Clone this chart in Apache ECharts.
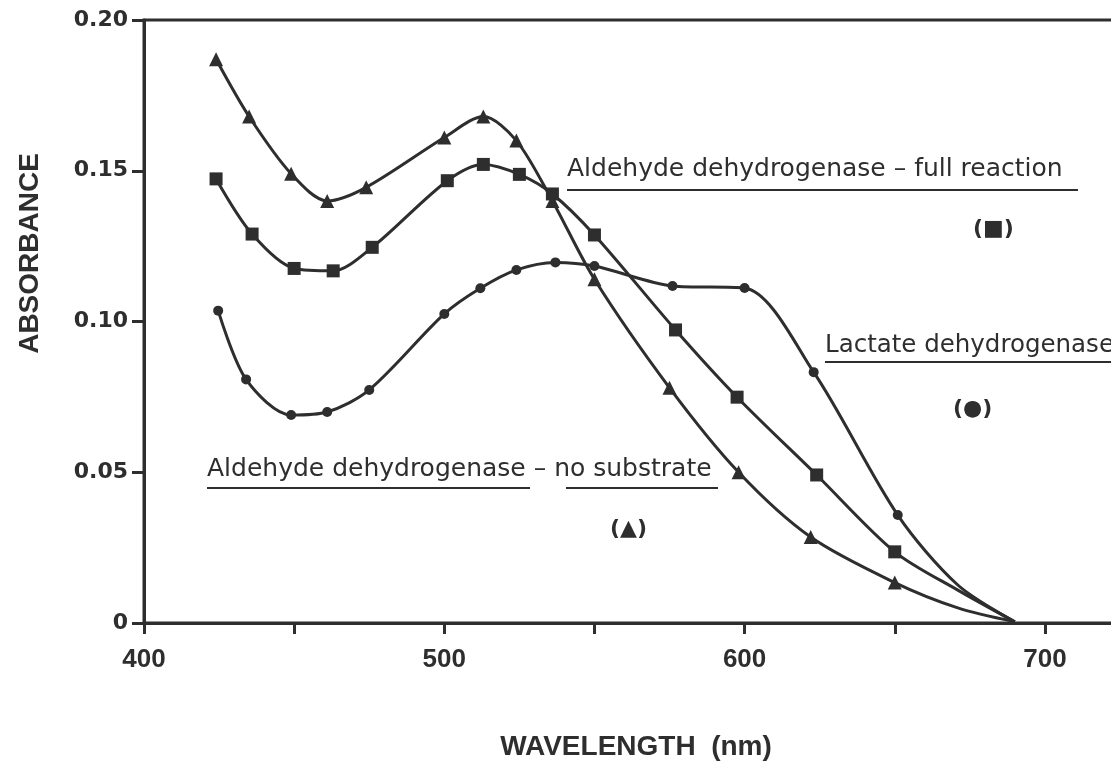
<!DOCTYPE html>
<html>
<head>
<meta charset="utf-8">
<script src="https://cdn.jsdelivr.net/npm/echarts@6/dist/echarts.min.js"></script>
<style>
  html, body { margin: 0; padding: 0; background: #fff; }
  #chart { width: 1111px; height: 770px; }
</style>
</head>
<body>
<div id="chart"></div>
<script>
// wavelength (nm) / absorbance
// the last two points of each curve are on the tail where no marker is drawn
var noSubX = [424, 435, 449, 461, 474, 500, 513, 524, 536, 550, 575, 598, 622, 650, 671, 690]
var noSubY = [0.187, 0.168, 0.149, 0.140, 0.1445, 0.161, 0.168, 0.160, 0.140, 0.114, 0.078, 0.050, 0.0285, 0.0134, 0.005, 0.0004]

var fullX = [424, 436, 450, 463, 476, 501, 513, 525, 536, 550, 577, 597.5, 624, 650, 671, 690]
var fullY = [0.1473, 0.129, 0.1176, 0.1168, 0.1246, 0.1467, 0.1521, 0.1488, 0.1423, 0.1287, 0.0972, 0.0749, 0.0491, 0.0236, 0.0109, 0.0004]

var lactX = [424.7, 434, 449, 461, 475, 500, 512, 524, 537, 550, 576, 600, 623, 651, 671, 690]
var lactY = [0.1036, 0.0808, 0.069, 0.070, 0.0773, 0.1025, 0.111, 0.1171, 0.1196, 0.1184, 0.1118, 0.1111, 0.0832, 0.0358, 0.0126, 0.0004]

var xLabels = [400, 500, 600, 700]
var yLabels = ["0", "0.05", "0.10", "0.15", "0.20"]

var ink = "#2e2e2e"

function pairs(xs, ys) {
    return xs.map(function (x, i) {
        var p = { value: [x, ys[i]] }
        if (i >= xs.length - 2) p.symbolSize = 0
        return p
    })
}

function curve(name, symbol, size, xs, ys) {
    return {
        name: name,
        type: "line",
        data: pairs(xs, ys),
        smooth: 0.3,
        symbol: symbol,
        symbolSize: size,
        showAllSymbol: true,
        lineStyle: { color: ink, width: 3 },
        itemStyle: { color: ink },
        emphasis: { disabled: true },
        z: 3
    }
}

var chart = echarts.init(document.getElementById("chart"))

var option = {
    backgroundColor: "#fff",
    animation: false,
    grid: {
        left: 144,
        top: 20,
        width: 1000,
        bottom: 147,
        outerBoundsMode: "none",
        containLabel: false,
        show: true,
        borderColor: ink,
        borderWidth: 3
    },
    xAxis: {
        type: "value",
        min: 400,
        max: 733,
        interval: 50,
        name: "WAVELENGTH  (nm)",
        nameLocation: "middle",
        nameGap: 110,
        nameTextStyle: {
            color: ink, fontFamily: "Liberation Sans", fontWeight: "bold", fontSize: 28,
            padding: [0, 16, 0, 0]
        },
        axisLine: { show: true, lineStyle: { color: ink, width: 3 } },
        axisTick: { show: true, inside: false, length: 11, lineStyle: { color: ink, width: 3 } },
        axisLabel: {
            color: ink, fontFamily: "Liberation Sans", fontWeight: "bold", fontSize: 26,
            margin: 24, showMaxLabel: false,
            formatter: function (v) { return xLabels.indexOf(v) >= 0 ? String(v) : "" }
        },
        splitLine: { show: false }
    },
    yAxis: {
        type: "value",
        min: 0,
        max: 0.2,
        interval: 0.05,
        name: "ABSORBANCE",
        nameLocation: "middle",
        nameGap: 100,
        nameRotate: 90,
        nameTextStyle: {
            color: ink, fontFamily: "Liberation Sans", fontWeight: "bold", fontSize: 28,
            padding: [0, 0, 0, 136]
        },
        axisLine: { show: true, lineStyle: { color: ink, width: 3 } },
        axisTick: { show: true, inside: false, length: 12, lineStyle: { color: ink, width: 3 } },
        axisLabel: {
            color: ink, fontFamily: "DejaVu Sans", fontWeight: "bold", fontSize: 22, margin: 16,
            formatter: function (v) { return yLabels[Math.round(v / 0.05)] }
        },
        splitLine: { show: false }
    },
    series: [
        curve("Aldehyde dehydrogenase - no substrate", "triangle", 14, noSubX, noSubY),
        curve("Aldehyde dehydrogenase - full reaction", "rect", 13, fullX, fullY),
        curve("Lactate dehydrogenase", "circle", 10, lactX, lactY)
    ],
    graphic: [
        { type: "text", left: 567, top: 157, style: { text: "Aldehyde dehydrogenase \u2013 full reaction", font: "25px 'DejaVu Sans'", fill: ink } },
        { type: "line", shape: { x1: 567, y1: 190, x2: 1078, y2: 190 }, style: { stroke: ink, lineWidth: 2 } },
        { type: "text", left: 973, top: 218, style: { text: "(\u25A0)", font: "bold 22px 'DejaVu Sans'", fill: ink } },

        { type: "text", left: 825, top: 333, style: { text: "Lactate dehydrogenase", font: "24.5px 'DejaVu Sans'", fill: ink } },
        { type: "line", shape: { x1: 825, y1: 362, x2: 1111, y2: 362 }, style: { stroke: ink, lineWidth: 2 } },
        { type: "text", left: 953, top: 398, style: { text: "(\u25CF)", font: "bold 22px 'DejaVu Sans'", fill: ink } },

        { type: "text", left: 207, top: 457, style: { text: "Aldehyde dehydrogenase \u2013 no substrate", font: "25px 'DejaVu Sans'", fill: ink } },
        { type: "line", shape: { x1: 207, y1: 488, x2: 530, y2: 488 }, style: { stroke: ink, lineWidth: 2 } },
        { type: "line", shape: { x1: 566, y1: 488, x2: 718, y2: 488 }, style: { stroke: ink, lineWidth: 2 } },
        { type: "text", left: 610, top: 518, style: { text: "(\u25B2)", font: "bold 22px 'DejaVu Sans'", fill: ink } }
    ]
}

chart.setOption(option)
</script>
</body>
</html>
